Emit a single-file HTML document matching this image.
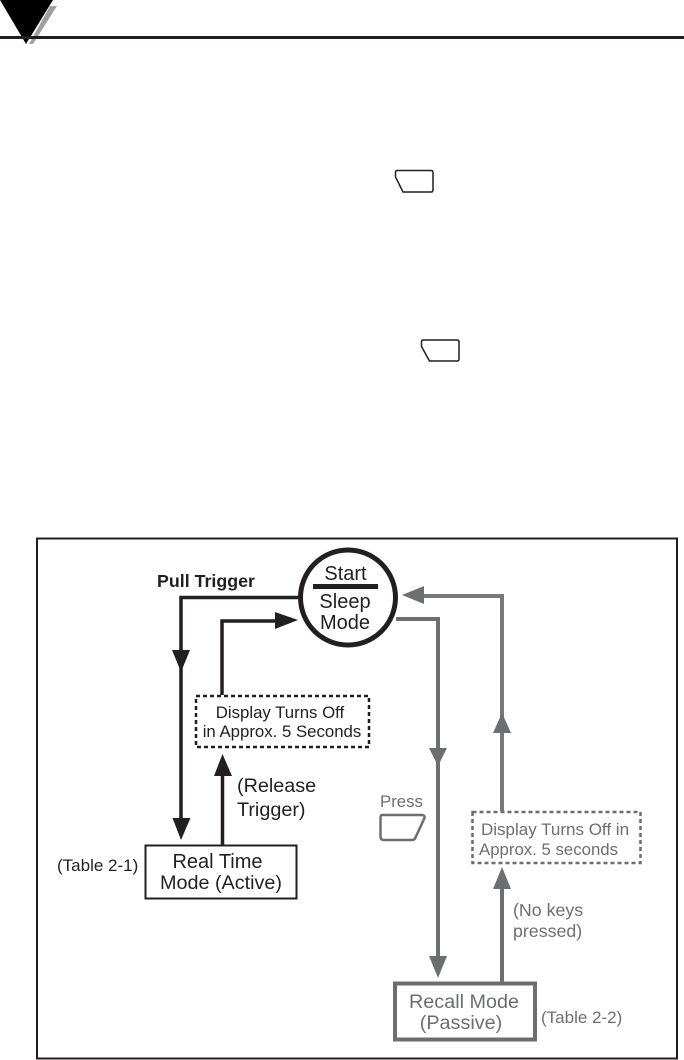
<!DOCTYPE html>
<html><head><meta charset="utf-8"><style>
html,body{margin:0;padding:0;background:#fff;width:684px;height:1060px;overflow:hidden}
svg{display:block}
text{font-family:"Liberation Sans",sans-serif}
</style></head><body>
<svg width="684" height="1060" viewBox="0 0 684 1060" xmlns="http://www.w3.org/2000/svg">
<rect width="684" height="1060" fill="#fff"/>
<!-- header -->
<polygon points="50,6 57,6 33,44 29,44" fill="#a0a0a0"/>
<polygon points="0,0 53,0 26,44" fill="#000"/>
<rect x="0" y="36" width="684" height="3" fill="#231f20"/>
<!-- top keys -->
<path d="M397,170.500H431Q433,170.500 433,172.500V190Q433,192 431,192H403L395.500,177V172.500Q395.500,170.500 397,170.500Z" fill="none" stroke="#231f20" stroke-width="1.500"/>
<path d="M423,340H457Q459,340 459,342V359Q459,361 457,361H429.500L421.500,346.500V342Q421.500,340 423,340Z" fill="none" stroke="#231f20" stroke-width="1.500"/>
<!-- frame -->
<rect x="37" y="538.500" width="640" height="520" fill="none" stroke="#231f20" stroke-width="2"/>
<!-- black connectors -->
<path d="M298,597.500H181V822" fill="none" stroke="#231f20" stroke-width="3.500"/>
<polygon points="172,650 190,650 181,672" fill="#231f20"/>
<polygon points="172.500,818 190.500,818 181,840" fill="#231f20"/>
<path d="M222,695V621H280" fill="none" stroke="#231f20" stroke-width="3.500"/>
<polygon points="275,612 298,620 275,629" fill="#231f20"/>
<path d="M222.500,845V770" fill="none" stroke="#231f20" stroke-width="3.500"/>
<polygon points="222.500,754 232,776 214,776" fill="#231f20"/>
<!-- circle -->
<circle cx="348" cy="597.500" r="47.500" fill="#fff" stroke="#231f20" stroke-width="5"/>
<rect x="313" y="584" width="65" height="5" fill="#231f20"/>
<text x="345.500" y="580" font-size="20" text-anchor="middle" fill="#231f20">Start</text>
<text x="345" y="608" font-size="20" text-anchor="middle" fill="#231f20">Sleep</text>
<text x="345" y="629" font-size="20" text-anchor="middle" fill="#231f20">Mode</text>
<text x="157" y="587" font-size="17.500" font-weight="bold" fill="#231f20" textLength="98" lengthAdjust="spacingAndGlyphs">Pull Trigger</text>
<!-- dashed black -->
<rect x="196" y="696" width="173" height="51" fill="#fff" stroke="#231f20" stroke-width="2.500" stroke-dasharray="4 3"/>
<text x="280" y="718" font-size="16.800" text-anchor="middle" fill="#231f20">Display Turns Off</text>
<text x="282" y="737" font-size="16.800" text-anchor="middle" fill="#231f20">in Approx. 5 Seconds</text>
<text x="237" y="792" font-size="19.800" fill="#231f20">(Release</text>
<text x="237" y="816" font-size="19.800" fill="#231f20">Trigger)</text>
<!-- real time box -->
<rect x="145.500" y="845.500" width="151" height="53" fill="#fff" stroke="#231f20" stroke-width="2"/>
<text x="217.500" y="868" font-size="20" text-anchor="middle" fill="#231f20">Real Time</text>
<text x="221" y="889" font-size="19.800" text-anchor="middle" fill="#231f20">Mode (Active)</text>
<text x="57" y="871" font-size="17" fill="#231f20">(Table 2-1)</text>
<!-- gray connectors -->
<path d="M396,619H438V960" fill="none" stroke="#6d6e71" stroke-width="4"/>
<polygon points="429,748 447,748 438,766" fill="#6d6e71"/>
<polygon points="429,956 447,956 438,978" fill="#6d6e71"/>
<path d="M502,811V596H420" fill="none" stroke="#77787b" stroke-width="4"/>
<polygon points="402,595 424,586 424,604" fill="#6d6e71"/>
<polygon points="502,713 511,733 493,733" fill="#6d6e71"/>
<path d="M502,982V885" fill="none" stroke="#6d6e71" stroke-width="4"/>
<polygon points="502,867 511,889 493,889" fill="#6d6e71"/>
<!-- dashed gray -->
<rect x="472.500" y="812" width="168" height="51" fill="#fff" stroke="#6d6e71" stroke-width="2.500" stroke-dasharray="4 3"/>
<text x="481" y="835" font-size="17" fill="#6d6e71">Display Turns Off in</text>
<text x="479" y="855" font-size="16.800" fill="#6d6e71">Approx. 5 seconds</text>
<text x="513" y="916" font-size="17.800" fill="#6d6e71">(No keys</text>
<text x="513" y="937" font-size="17.800" fill="#6d6e71">pressed)</text>
<!-- press key -->
<text x="380" y="807" font-size="16.800" fill="#6d6e71">Press</text>
<path d="M382,815H422Q425,815 424.500,818L415,838.500Q414,840 412,840H384Q380.500,840 380.500,836.500V818Q380.500,815 382,815Z" fill="none" stroke="#6d6e71" stroke-width="2.500"/>
<!-- recall -->
<rect x="395" y="983.500" width="140" height="56" fill="#fff" stroke="#6d6e71" stroke-width="4"/>
<text x="464" y="1008" font-size="19.800" text-anchor="middle" fill="#6d6e71">Recall Mode</text>
<text x="461" y="1029" font-size="19.800" text-anchor="middle" fill="#6d6e71">(Passive)</text>
<text x="541" y="1023" font-size="17" fill="#6d6e71">(Table 2-2)</text>
</svg>
</body></html>
